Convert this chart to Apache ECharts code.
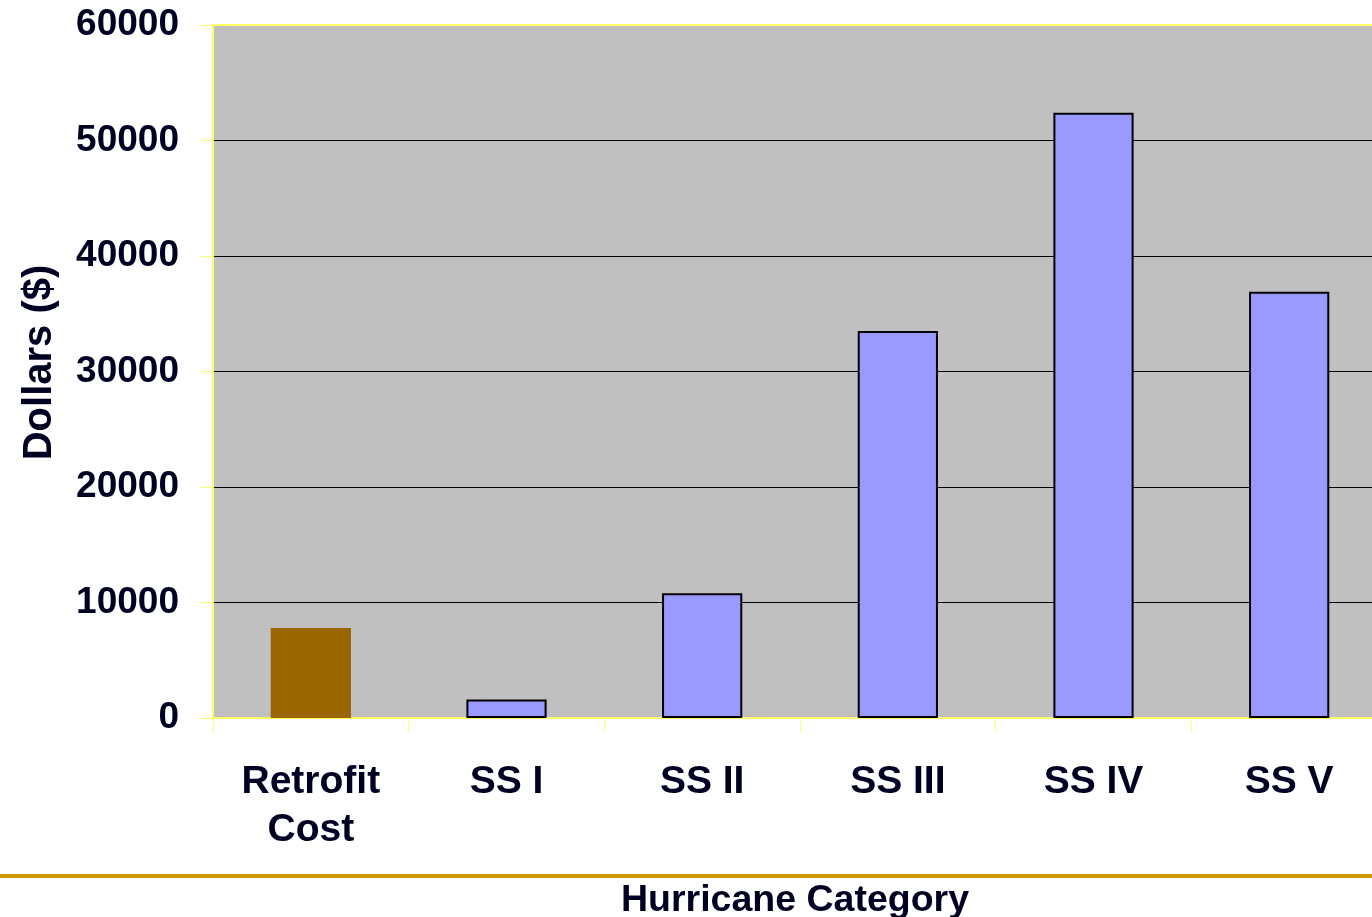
<!DOCTYPE html>
<html>
<head>
<meta charset="utf-8">
<script src="https://cdn.jsdelivr.net/npm/echarts@6/dist/echarts.min.js"></script>
<style>
html,body{margin:0;padding:0;background:#fff;}
#c{width:1372px;height:917px;}
</style>
</head>
<body>
<div id="c"></div>
<script>
const categories = ['Retrofit\nCost', 'SS I', 'SS II', 'SS III', 'SS IV', 'SS V'];
const values = [7800, 1600, 10800, 33500, 52400, 36900];
const yTicks = [0, 10000, 20000, 30000, 40000, 50000, 60000];
const xTitle = 'Hurricane Category';
const yTitle = 'Dollars ($)';

const FONT = '"Liberation Sans", Arial, sans-serif';
const TXT = '#000022';
const YEL = '#FFFF66';

const chart = echarts.init(document.getElementById('c'), null, {renderer: 'canvas'});

const seriesData = values.map((v, i) => i === 0
  ? {value: v, itemStyle: {color: '#996600', borderWidth: 0}}
  : {value: v, itemStyle: {color: '#9999FF', borderColor: '#000000', borderWidth: 2}});

chart.setOption({
  animation: false,
  backgroundColor: '#ffffff',
  grid: {
    left: 213, top: 25, width: 1174, bottom: 199,
    outerBoundsMode: 'none',
    containLabel: false,
    show: true, backgroundColor: '#C0C0C0', borderWidth: 0
  },
  xAxis: [{
    type: 'category',
    data: categories,
    name: xTitle,
    nameLocation: 'middle',
    nameGap: 164,
    nameTextStyle: {fontFamily: FONT, fontWeight: 'bold', fontSize: 37.5, color: TXT, padding: [0, 10, 0, 0]},
    axisLine: {show: true, lineStyle: {color: YEL, width: 2}},
    axisTick: {show: true, length: 14, interval: 0, lineStyle: {color: YEL, width: 1}},
    axisLabel: {
      interval: 0, margin: 40, fontFamily: FONT, fontWeight: 'bold',
      fontSize: 39, color: TXT, lineHeight: 48
    },
    splitLine: {show: false}
  }, {
    type: 'category',
    position: 'top',
    data: categories,
    axisLine: {show: true, lineStyle: {color: YEL, width: 2}},
    axisTick: {show: false},
    axisLabel: {show: false},
    splitLine: {show: false}
  }],
  yAxis: {
    type: 'value',
    min: yTicks[0], max: yTicks[yTicks.length - 1], interval: yTicks[1] - yTicks[0],
    name: yTitle,
    nameLocation: 'middle',
    nameRotate: 90,
    nameGap: 153,
    nameTextStyle: {fontFamily: FONT, fontWeight: 'bold', fontSize: 40, color: TXT, padding: [0, 0, 0, 18]},
    axisLine: {show: true, lineStyle: {color: YEL, width: 2}},
    axisTick: {show: true, length: 13, inside: false, lineStyle: {color: YEL, width: 1}},
    axisLabel: {
      margin: 34, fontFamily: FONT, fontWeight: 'bold', fontSize: 37, color: TXT,
      formatter: v => String(v)
    },
    splitLine: {
      show: true,
      lineStyle: {color: '#000000', width: 1}
    }
  },
  series: [{
    type: 'bar',
    xAxisIndex: 0,
    data: seriesData,
    barWidth: '41%'
  }],
  graphic: [{
    type: 'rect',
    left: 0, top: 874,
    shape: {width: 1372, height: 4},
    style: {fill: '#CC9900'},
    z: 10
  }]
});
</script>
</body>
</html>
